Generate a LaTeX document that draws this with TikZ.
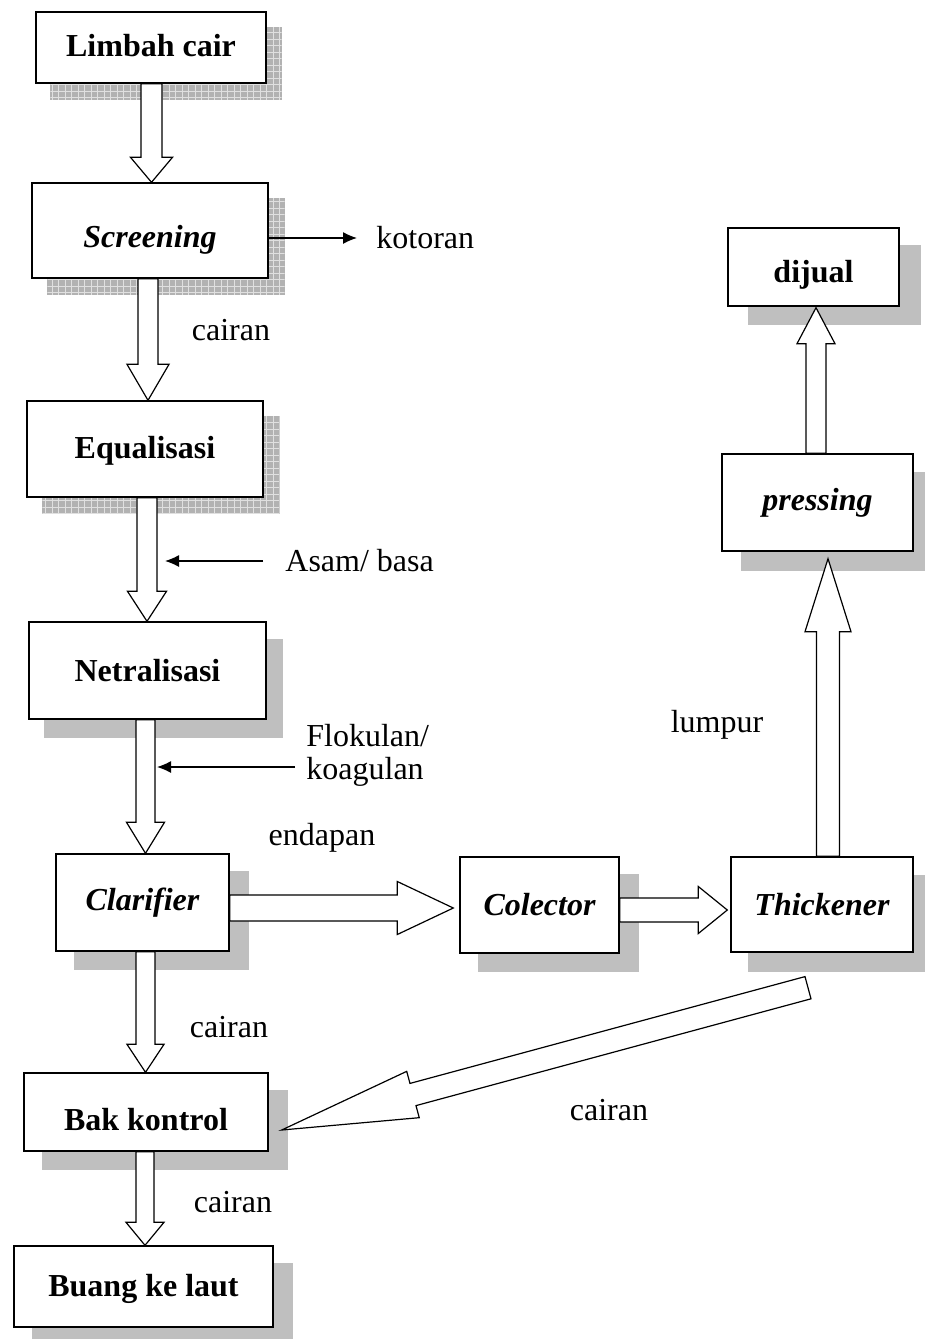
\documentclass[tikz,border=0pt]{standalone}
\usepackage{fontspec}
\setmainfont{Liberation Serif}
\usetikzlibrary{calc,arrows.meta,backgrounds}

% hollow block arrow: tail, tip, half shaft width, half head width, head length
\newcommand{\fatarrow}[5]{%
  \coordinate (fa-a) at #1;
  \coordinate (fa-b) at #2;
  \coordinate (fa-c) at ($(fa-b)!#5!(fa-a)$);
  \draw[fat] ($(fa-a)!#3!90:(fa-b)$) -- ($(fa-c)!#3!90:(fa-b)$)
    -- ($(fa-c)!#4!90:(fa-b)$) -- (fa-b) -- ($(fa-c)!#4!-90:(fa-b)$)
    -- ($(fa-c)!#3!-90:(fa-b)$) -- ($(fa-a)!#3!-90:(fa-b)$) -- cycle;}

% plain grey drop shadow behind a box
\newcommand{\boxshadow}[3]{%
  \fill[shade] ($(#1.south west)+(#2,#3)$) rectangle ($(#1.north east)+(#2,#3)$);}

% grid-textured drop shadow behind a box
\newcommand{\hatchshadow}[3]{%
  \begin{scope}
    \coordinate (hs1) at ($(#1.south west)+(#2,#3)$);
    \coordinate (hs2) at ($(#1.north east)+(#2,#3)$);
    \fill[hatch] (hs1) rectangle (hs2);
    \clip (hs1) rectangle (hs2);
    \draw[hatchline, step=3.25pt] (hs1) grid (hs2);
  \end{scope}}

% move a box caption down without changing the box size
\newcommand{\capshift}[2]{\raisebox{-#1}[\height][\depth]{#2}}

\begin{document}
\begin{tikzpicture}[x=0.5pt, y=-0.5pt,
  box/.style={draw, line width=0.7pt, fill=white, inner sep=0pt,
    font=\fontsize{16}{18}\selectfont\bfseries},
  ibox/.style={box, font=\fontsize{16}{18}\selectfont\bfseries\itshape},
  lbl/.style={inner sep=0pt, font=\fontsize{16}{16.5}\selectfont},
  fat/.style={draw, line width=0.6pt, fill=white, line join=miter},
  thinarrow/.style={draw, line width=0.6pt, -{Latex[length=7pt,width=6pt]}},
  shade/.style={fill=black!25},
  hatch/.style={fill=black!30},
  hatchline/.style={draw=white!88!black, line width=0.3pt}]

\useasboundingbox (0,0) rectangle (925,1339);

% process boxes (sizes in pt, half of the pixel grid)
\node[box,  minimum width=115pt,  minimum height=35.5pt] (lim) at (151,47.5)    {\capshift{-1pt}{Limbah cair}};
\node[ibox, minimum width=118pt,  minimum height=47.5pt] (scr) at (150,230.5)   {\capshift{4.5pt}{Screening}};
\node[box,  minimum width=118pt,  minimum height=48pt]   (equ) at (145,449)     {\capshift{1pt}{Equalisasi}};
\node[box,  minimum width=118.5pt,minimum height=48.5pt] (net) at (147.5,670.5) {Netralisasi};
\node[ibox, minimum width=86.5pt, minimum height=48.5pt] (cla) at (142.5,902.5) {Clarifier};
\node[box,  minimum width=122pt,  minimum height=39pt]   (bak) at (146,1112)    {\capshift{4pt}{Bak kontrol}};
\node[box,  minimum width=129.5pt,minimum height=40.5pt] (bua) at (143.5,1286.5){\capshift{1pt}{Buang ke laut}};
\node[ibox, minimum width=79.5pt, minimum height=48pt]   (col) at (539.5,905)   {Colector};
\node[ibox, minimum width=91pt,   minimum height=47.5pt] (thk) at (822,904.5)   {Thickener};
\node[box,  minimum width=85.5pt, minimum height=39pt]   (dij) at (813.5,267)   {\capshift{4pt}{dijual}};
\node[ibox, minimum width=95.5pt, minimum height=48.5pt] (pre) at (817.5,502.5) {pressing};

% shadows behind the boxes
\begin{pgfonlayer}{background}
  \hatchshadow{lim}{15}{16}
  \hatchshadow{scr}{16}{16}
  \hatchshadow{equ}{16}{16}
  \boxshadow{net}{16}{18}
  \boxshadow{cla}{19}{18}
  \boxshadow{bak}{19}{18}
  \boxshadow{bua}{19}{18}
  \boxshadow{col}{19}{18}
  \boxshadow{thk}{18}{19}
  \boxshadow{dij}{21}{18}
  \boxshadow{pre}{20}{19}
\end{pgfonlayer}

% text labels
\node[lbl, anchor=west] (kot)  at (376,238) {kotoran};
\node[lbl] (cair1) at (231,330) {cairan};
\node[lbl, anchor=west] (asam) at (285,561) {Asam/ basa};
\node[lbl, anchor=west, align=left] (flok) at (306,755) {Flokulan/\\koagulan};
\node[lbl] (endp)  at (322,838) {endapan};
\node[lbl] (lump)  at (717,725) {lumpur};
\node[lbl] (cair2) at (229,1027) {cairan};
\node[lbl] (cair3) at (233,1202) {cairan};
\node[lbl] (cair4) at (609,1110) {cairan};

% main flow (left column)
\coordinate (a1) at ($(lim.south)+(0.5,0)$);
\fatarrow{(a1)}{(a1 |- scr.north)}{5.25pt}{10.5pt}{12.5pt}
\coordinate (a2) at ($(scr.south)+(-2,0)$);
\fatarrow{(a2)}{(a2 |- equ.north)}{5pt}{10.5pt}{18pt}
\coordinate (a3) at ($(equ.south)+(2,0)$);
\fatarrow{(a3)}{(a3 |- net.north)}{5pt}{9.75pt}{15pt}
\coordinate (a4) at ($(net.south)+(-2,0)$);
\fatarrow{(a4)}{(a4 |- cla.north)}{4.75pt}{9.5pt}{15.5pt}
\coordinate (a5) at ($(cla.south)+(3,0)$);
\fatarrow{(a5)}{(a5 |- bak.north)}{4.75pt}{9.25pt}{14pt}
\coordinate (a6) at ($(bak.south)+(-1,0)$);
\fatarrow{(a6)}{(a6 |- bua.north)}{4.5pt}{9.5pt}{11.5pt}

% sludge line
\coordinate (a7) at ($(cla.east)+(0,5.5)$);
\coordinate (t7) at ($(a7 -| col.west)+(-6,0)$);
\fatarrow{(a7)}{(t7)}{6.5pt}{13.25pt}{28pt}
\coordinate (a8) at ($(col.east)+(0,5)$);
\coordinate (t8) at ($(a8 -| thk.west)+(-3,0)$);
\fatarrow{(a8)}{(t8)}{6pt}{11.75pt}{14.5pt}
\coordinate (a9) at ($(thk.north)+(6,0)$);
\coordinate (t9) at ($(a9 |- pre.south)+(0,7)$);
\fatarrow{(a9)}{(t9)}{5.75pt}{11.5pt}{36.5pt}
\coordinate (a10) at ($(pre.north)+(-1.5,0)$);
\coordinate (t10) at ($(a10 |- dij.south)+(0,1)$);
\fatarrow{(a10)}{(t10)}{5pt}{9.5pt}{18pt}

% liquid return from thickener
\coordinate (a11) at ($(thk.south)+(-14,35)$);
\coordinate (t11) at ($(bak.east)+(13,18)$);
\fatarrow{(a11)}{(t11)}{5.75pt}{12pt}{68pt}

% side streams
\draw[thinarrow] (scr.east |- kot.west) -- ($(kot.west)+(-19,0)$);
\draw[thinarrow] ($(asam.west)+(-22,0)$) -- ($(asam.west)+(-120,0)$);
\draw[thinarrow] ($(flok.west)+(-11,12)$) -- ++(-138,0);

\end{tikzpicture}
\end{document}
